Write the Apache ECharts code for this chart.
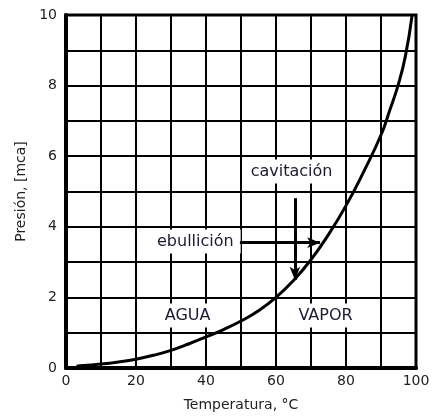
<!DOCTYPE html>
<html>
<head>
<meta charset="utf-8">
<script src="https://cdn.jsdelivr.net/npm/echarts@6/dist/echarts.min.js"></script>
<style>
html,body{margin:0;padding:0;background:#fff;}
#chart{width:442px;height:417px;}
</style>
</head>
<body>
<div id="chart"></div>
<script>
// Vapor pressure curve of water
var temperatures = [3, 5, 10, 15, 20, 25, 30, 35, 40, 45, 50, 55, 60, 65, 70, 75, 80, 85, 90, 92.5, 95, 97, 98.9];
var pressures    = [0.05, 0.07, 0.11, 0.17, 0.25, 0.36, 0.5, 0.68, 0.88, 1.09, 1.33, 1.62, 2.0, 2.48, 3.07, 3.78, 4.6, 5.55, 6.6, 7.3, 8.05, 8.85, 10];

// Text annotations
var labelTexts = ['cavitación', 'ebullición', 'AGUA', 'VAPOR'];
var labelT     = [64.6, 37.1, 34.9, 74.3];
var labelP     = [5.55, 3.57, 1.47, 1.47];

// Arrows: [startT, startP, endT, endP]
var arrowEbullicion = [49.7, 3.55, 72.6, 3.55];
var arrowCavitacion = [65.4, 4.81, 65.4, 2.5];

// Axis settings
var xMin = 0, xMax = 100, xStep = 10, xLabelStep = 20;
var yMin = 0, yMax = 10, yStep = 1, yLabelStep = 2;

var curveData = temperatures.map(function (t, i) { return [t, pressures[i]]; });
var labelData = labelTexts.map(function (s, i) { return { value: [labelT[i], labelP[i]], name: s }; });

var chart = echarts.init(document.getElementById('chart'), null, { renderer: 'canvas' });
var font = 'DejaVu Sans';
chart.setOption({
  animation: false,
  backgroundColor: '#fff',
  grid: { left: 66, right: 26, top: 15, bottom: 49, show: true, borderColor: '#000', borderWidth: 3, backgroundColor: 'transparent' },
  xAxis: {
    type: 'value', min: xMin, max: xMax, interval: xStep,
    name: 'Temperatura, °C', nameLocation: 'middle', nameGap: 30,
    nameTextStyle: { fontFamily: font, fontSize: 14, color: '#222' },
    axisLine: { show: true, onZero: false, lineStyle: { color: '#000', width: 4 } },
    axisTick: { show: false },
    axisLabel: { fontFamily: font, fontSize: 14, color: '#222', margin: 6,
      formatter: function (v) { return (Math.round(v) % xLabelStep === 0) ? String(Math.round(v)) : ''; } },
    splitLine: { show: true, lineStyle: { color: '#000', width: 2 } }
  },
  yAxis: {
    type: 'value', min: yMin, max: yMax, interval: yStep,
    name: 'Presión, [mca]', nameLocation: 'middle', nameGap: 36,
    nameTextStyle: { fontFamily: font, fontSize: 14, color: '#222' },
    axisLine: { show: true, onZero: false, lineStyle: { color: '#000', width: 4 } },
    axisTick: { show: false },
    axisLabel: { fontFamily: font, fontSize: 14, color: '#222', margin: 9,
      formatter: function (v) { return (Math.round(v) % yLabelStep === 0) ? String(Math.round(v)) : ''; } },
    splitLine: { show: true, lineStyle: { color: '#000', width: 2 } }
  },
  series: [
    {
      type: 'scatter',
      data: labelData,
      symbolSize: 1,
      itemStyle: { color: '#fff', opacity: 1 },
      z: 3,
      label: {
        show: true, position: [0, 0], align: 'center', verticalAlign: 'middle',
        formatter: '{b}', opacity: 1,
        fontFamily: font, fontSize: 16, color: '#1a1a33',
        backgroundColor: '#fff', padding: [4, 7]
      },
      emphasis: { disabled: true },
      silent: true
    },
    {
      type: 'line',
      data: curveData,
      smooth: 0.5,
      showSymbol: false,
      z: 5,
      lineStyle: { color: '#000', width: 3 },
      markLine: {
        silent: true,
        symbol: ['none', 'arrow'],
        symbolSize: [8, 13],
        label: { show: false },
        lineStyle: { color: '#000', width: 3, type: 'solid' },
        data: [
          [{ coord: [arrowEbullicion[0], arrowEbullicion[1]] }, { coord: [arrowEbullicion[2], arrowEbullicion[3]] }],
          [{ coord: [arrowCavitacion[0], arrowCavitacion[1]] }, { coord: [arrowCavitacion[2], arrowCavitacion[3]] }]
        ]
      }
    }
  ]
});
</script>
</body>
</html>
